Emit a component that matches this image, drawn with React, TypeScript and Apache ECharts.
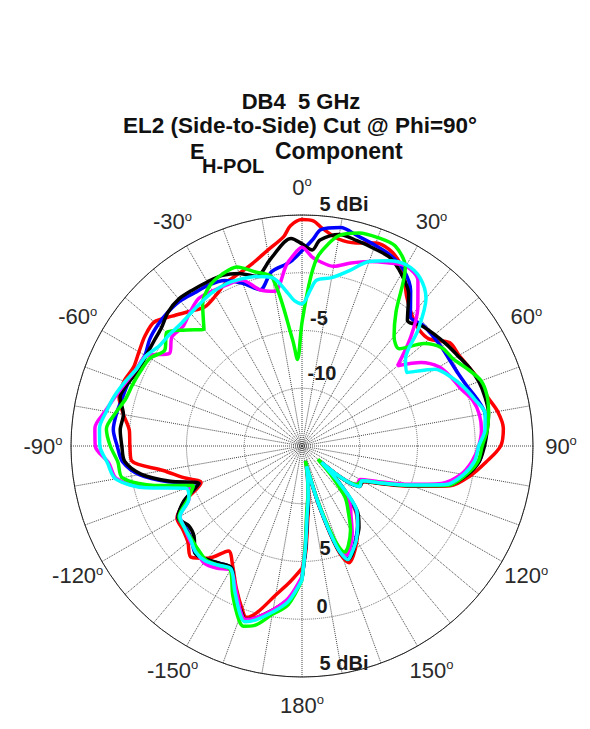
import React, { useEffect, useRef } from 'react';
import * as echarts from 'echarts';

// Angles in degrees (0 = top, clockwise positive)
const angles = [
  -180, -175, -170, -165, -162, -160, -155, -150, -145, -140, -135, -130, -125, -120, -115, -110,
  -105, -100, -95, -90, -85, -80, -75, -70, -65, -60, -55, -50, -45, -40, -35, -30, -25, -20, -15,
  -10, -5, -3, 0, 3, 5, 10, 15, 20, 25, 30, 35, 40, 45, 50, 55, 60, 65, 70, 75, 80, 85, 90, 95,
  100, 105, 110, 115, 120, 125, 130, 135, 140, 145, 150, 155, 158, 161, 164, 167, 170, 173, 176,
  178, 180,
];

// Gain in dBi for each trace
const redDb = [
  -4.4, -3.2, -1.9, -0.1, 0.6, 0.1, -1.5, -3.0, -3.9, -2.3, -1.4, -2.1, -2.4, -2.5, -3.9, -5.7,
  -4.4, -2.8, -0.2, -0.1, 0.0, 0.7, 1.4, 1.4, 1.1, 1.3, 1.6, 1.7, 0.9, 0.2, -0.3, 0.0, 0.6, 0.9, 1.4,
  2.2, 3.2, 4.1, 4.6, 4.5, 4.0, 3.2, 3.2, 3.7, 3.5, 2.5, 0.8, -0.2, -0.7, -0.6, 0.6, 0.7, 1.0, 1.4, 1.6, 2.2, 2.5, 2.2, 1.0,
  -0.2, -1.7, -4.8, -7.2, -8.8, -9.0, -12.9, -10.6, -7.9, -6.6, -5.5, -4.5, -4.1, -5.5, -9.5, -13.2, -12.1, -10.3, -8.2,
  -5.8, -4.4,
];
const blueDb = [
  -3.5, -1.6, -0.5, 0.5, 0.9, 0.4, -1.2, -2.8, -2.6, -2.1, -1.9, -2.5, -2.7, -2.6, -3.8, -5.5,
  -3.0, -0.7, 0.6, 1.0, 1.4, 1.3, 1.1, 1.0, 0.8, 0.7, 1.1, 1.3, 1.4, 1.4, 1.2, 1.1, 0.8, 0.0, -1.0,
  0.3, 0.8, 1.1, 1.9, 2.9, 3.8, 4.2, 3.8, 3.5, 3.2, 2.6, 1.4, -0.4, -0.2, -0.2, -0.2, -0.2, -0.1, 0.2, 0.7, 1.1, 1.0, 0.7, 0.4,
  -0.6, -2.0, -5.0, -7.4, -9.0, -9.0, -12.8, -10.4, -7.7, -6.6, -5.7, -4.8, -4.5, -5.8, -9.7, -13.2, -12.1, -10.5, -8.7,
  -6.2, -3.5,
];
const blackDb = [
  -3.5, -1.7, -0.6, 0.4, 0.8, 0.3, -1.2, -2.8, -2.6, -2.2, -1.9, -2.8, -3.0, -2.6, -3.7, -5.5,
  -3.2, -0.9, 0.4, 0.6, 0.8, 0.7, 1.3, 1.0, 0.6, 0.6, 0.7, 0.9, 1.4, 1.6, 1.5, 1.4, 1.3, 0.9, 0.2,
  1.3, 2.7, 3.0, 2.5, 2.0, 2.9, 3.6, 3.4, 3.2, 3.0, 2.2, 1.1, -0.8, -0.3, 0.0, 0.3, 0.6, 1.0, 1.3, 1.4, 1.4, 1.1, 0.8, 0.4,
  -0.5, -1.9, -5.0, -7.3, -8.9, -8.9, -12.6, -10.2, -7.5, -6.4, -5.6, -4.7, -4.4, -5.7, -9.7, -13.2, -11.9, -10.4, -8.6,
  -6.1, -3.5,
];
const magentaDb = [
  -3.7, -1.8, -0.6, 0.4, 0.8, 0.4, -1.4, -2.6, -2.1, -1.8, -2.1, -2.3, -2.6, -2.8, -4.2, -4.6,
  -1.2, 1.3, 1.8, 2.9, 3.0, 2.3, 1.7, 1.2, 0.8, 0.6, -1.0, -0.3, -0.4, 0.1, 0.6, 0.5, 0.4, 0.3, -1.0,
  -1.4, 0.7, 1.4, 2.2, 1.4, 1.1, 0.8, 1.4, 2.0, 2.5, 3.0, 2.5, 0.6, -1.7, -4.2, -2.4, -1.3, -0.8, -0.4, 0.3, 0.6, 0.6, 0.3, -0.2,
  -1.0, -2.5, -5.3, -7.7, -9.2, -9.2, -13.0, -11.0, -8.6, -7.6, -6.3, -5.2, -4.8, -6.4, -10.1, -13.7, -12.3, -10.8, -9.0,
  -6.6, -3.7,
];
const greenDb = [
  -3.4, -1.2, -0.2, 1.1, 1.4, 1.0, -0.8, -2.6, -2.4, -2.1, -2.3, -2.5, -2.6, -2.7, -4.1, -5.0,
  -1.8, 0.8, 1.0, 1.6, 2.0, 1.4, 0.8, 0.6, 0.4, 0.2, -0.5, 0.3, -0.8, -1.8, 0.0, 1.0, 1.4, 1.5, 0.6,
  -0.2, -5.8, -7.5, -4.3, -0.3, 1.6, 3.5, 4.1, 4.2, 4.1, 2.9, -0.8, -2.6, -3.1, -1.2, -0.2, 0.1, 0.8, 1.5, 1.6, 1.4, 1.1, 0.6, 0.3,
  -0.6, -1.9, -5.0, -7.4, -9.0, -9.2, -13.2, -11.5, -9.2, -8.0, -6.6, -5.5, -5.1, -6.6, -10.1, -13.7, -12.3, -10.8, -9.2,
  -6.6, -3.4,
];
const cyanDb = [
  -3.4, -1.5, -0.4, 0.6, 1.0, 0.6, -1.2, -2.7, -2.4, -2.0, -2.0, -2.4, -2.6, -2.8, -4.2, -4.3,
  -1.0, 1.4, 1.9, 2.5, 2.6, 2.2, 1.8, 1.3, 0.8, 0.6, 0.1, 0.0, -0.1, 0.0, 0.2, 0.4, 0.5, 0.4, 0.2,
  -0.2, -1.8, -2.4, -2.7, -1.5, -0.6, -0.2, 0.7, 2.0, 2.7, 3.1, 2.8, 1.7, -0.8, -3.3, -3.9, -1.7, -0.8, -0.1, 0.5, 1.1, 0.9, 0.3, 0.0,
  -0.8, -2.1, -5.1, -7.4, -9.0, -8.9, -12.8, -10.3, -7.6, -6.6, -5.6, -4.8, -4.4, -5.8, -9.7, -13.2, -12.1, -10.6, -8.8,
  -6.3, -3.4,
];

const traces = [
  { name: 'Red', color: '#ff0000', values: redDb },
  { name: 'Blue', color: '#0000ff', values: blueDb },
  { name: 'Black', color: '#000000', values: blackDb },
  { name: 'Magenta', color: '#ff00ff', values: magentaDb },
  { name: 'Green', color: '#00ff00', values: greenDb },
  { name: 'Cyan', color: '#00ffff', values: cyanDb },
];

const angleTickLabels = [-150, -120, -90, -60, -30, 0, 30, 60, 90, 120, 150, 180];
const radialMin = -15;
const radialMax = 5;
const radialStep = 5;

const titleLine1 = 'DB4  5 GHz';
const titleLine2 = 'EL2 (Side-to-Side) Cut @ Phi=90°';
const titleMain = 'E';
const titleSub = 'H-POL';
const titleRest = 'Component';

const topRadialLabels = [
  { text: '5 dBi', x: 344, y: 204 },
  { text: '-5', x: 319, y: 318 },
  { text: '-10', x: 322, y: 373 },
];
const bottomRadialLabels = [
  { text: '5', x: 325, y: 548 },
  { text: '0', x: 322, y: 606 },
  { text: '5 dBi', x: 344, y: 663 },
];

const CX = 302;
const CY = 446;
const R = 231;
const LABEL_R = 259;
const FONT = '"Liberation Sans", Arial, Helvetica, sans-serif';

export default function App() {
  const ref = useRef<HTMLDivElement>(null);

  useEffect(() => {
    if (!ref.current) return;
    const chart = echarts.init(ref.current, undefined, { renderer: 'svg' });

    const graphics: any[] = [];
    // Title
    graphics.push({
      type: 'text', x: 301, y: 101, z: 10,
      style: { text: titleLine1, font: `bold 22px ${FONT}`, fill: '#111', align: 'center', verticalAlign: 'middle' },
    });
    graphics.push({
      type: 'text', x: 300, y: 125, z: 10,
      style: { text: titleLine2, font: `bold 22.5px ${FONT}`, fill: '#111', align: 'center', verticalAlign: 'middle' },
    });
    graphics.push({
      type: 'text', x: 190, y: 151, z: 10,
      style: { text: titleMain, font: `bold 22px ${FONT}`, fill: '#111', align: 'left', verticalAlign: 'middle' },
    });
    graphics.push({
      type: 'text', x: 202, y: 166, z: 10,
      style: { text: titleSub, font: `bold 20px ${FONT}`, fill: '#111', align: 'left', verticalAlign: 'middle' },
    });
    graphics.push({
      type: 'text', x: 275, y: 151, z: 10,
      style: { text: titleRest, font: `bold 23px ${FONT}`, fill: '#111', align: 'left', verticalAlign: 'middle' },
    });

    // Angle labels
    angleTickLabels.forEach((a) => {
      const rad = (a * Math.PI) / 180;
      graphics.push({
        type: 'text',
        x: CX + LABEL_R * Math.sin(rad),
        y: CY - LABEL_R * Math.cos(rad),
        z: 10,
        style: {
          text: `{n|${a}}{s|o}`,
          align: 'center',
          verticalAlign: 'middle',
          rich: {
            n: { fontSize: 22, fontFamily: FONT, fill: '#2a2a2a', lineHeight: 24 } as any,
            s: { fontSize: 13, fontFamily: FONT, fill: '#2a2a2a', lineHeight: 14, verticalAlign: 'top' } as any,
          },
        },
      });
    });

    // Radial labels (under the traces)
    [...topRadialLabels, ...bottomRadialLabels].forEach((l) => {
      graphics.push({
        type: 'text', x: l.x, y: l.y, z: 0,
        style: { text: l.text, font: `bold 20px ${FONT}`, fill: '#1a1a1a', align: 'center', verticalAlign: 'middle' },
      });
    });

    const option: any = {
      animation: false,
      backgroundColor: '#ffffff',
      polar: { center: [CX, CY], radius: R },
      angleAxis: {
        type: 'value',
        min: -180,
        max: 180,
        interval: 30,
        startAngle: 270,
        clockwise: true,
        axisLine: { show: true, lineStyle: { color: '#222', width: 1 } },
        axisTick: { show: false },
        axisLabel: { show: false },
        splitLine: { show: true, lineStyle: { color: '#444', width: 1, type: 'dotted' } },
        minorTick: { show: false, splitNumber: 3 },
        minorSplitLine: { show: true, lineStyle: { color: '#444', width: 1, type: 'dotted' } },
      },
      radiusAxis: {
        type: 'value',
        min: radialMin,
        max: radialMax,
        interval: radialStep,
        axisLine: { show: false },
        axisTick: { show: false },
        axisLabel: { show: false },
        splitLine: { show: true, lineStyle: { color: '#666', width: 1, type: 'dotted' } },
      },
      graphic: { elements: graphics },
      series: traces.map((t, i) => ({
        name: t.name,
        type: 'line',
        coordinateSystem: 'polar',
        showSymbol: false,
        symbol: 'none',
        smooth: 0.3,
        z: 3 + i,
        lineStyle: { color: t.color, width: 3.5 },
        itemStyle: { color: t.color },
        data: angles.map((a, k) => [t.values[k], a]),
      })),
    };

    chart.setOption(option);
    return () => chart.dispose();
  }, []);

  return (
    <div
      ref={ref}
      style={{ position: 'absolute', left: 0, top: 0, width: 590, height: 729, background: '#fff' }}
    />
  );
}
